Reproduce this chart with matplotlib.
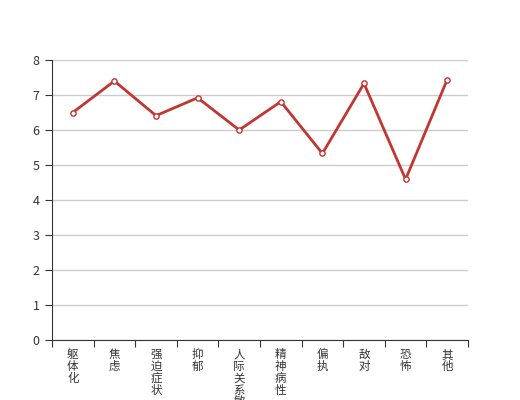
import matplotlib
matplotlib.use("Agg")
import matplotlib.pyplot as plt
import numpy as np

plt.rcParams['font.family'] = ['Noto Sans CJK SC', 'DejaVu Sans']

categories = ["躯体化", "焦虑", "强迫症状", "抑郁", "人际关系敏感",
              "精神病性", "偏执", "敌对", "恐怖", "其他"]
values = [6.5, 7.4, 6.41, 6.92, 6.0, 6.81, 5.33, 7.33, 4.59, 7.44]
yticks = [0, 1, 2, 3, 4, 5, 6, 7, 8]

fig = plt.figure(figsize=(5.2, 4.0), dpi=100)
ax = fig.add_axes([0.1, 0.15, 0.8, 0.70])

x = np.arange(len(categories))
ax.plot(x, values, color="#c23531", linewidth=2, marker="o", markersize=3.8,
        markerfacecolor="white", markeredgecolor="#c23531", markeredgewidth=1,
        zorder=3)

ax.set_xlim(-0.5, len(categories) - 0.5)
ax.set_ylim(0, 8)
ax.set_yticks(yticks)
ax.set_yticklabels([str(t) for t in yticks], fontsize=9, color="#333333")
ax.yaxis.grid(True, color="#cccccc", linewidth=1)
ax.set_axisbelow(True)

# ticks on category boundaries, labels at centers written vertically
ax.set_xticks(np.arange(len(categories) + 1) - 0.5)
ax.set_xticklabels([])
ax.set_xticks(x, minor=True)
ax.set_xticklabels(["\n".join(c) for c in categories], minor=True,
                   fontsize=8.3, color="#333333", va="top", linespacing=0.88)
ax.tick_params(axis="x", which="minor", length=0, pad=6)
ax.tick_params(axis="x", which="major", length=5, color="#333333")
ax.tick_params(axis="y", length=5, color="#333333", pad=4)

for side in ["top", "right"]:
    ax.spines[side].set_visible(False)
ax.spines["left"].set_color("#333333")
ax.spines["bottom"].set_color("#333333")

fig.savefig("out.png", dpi=100)
